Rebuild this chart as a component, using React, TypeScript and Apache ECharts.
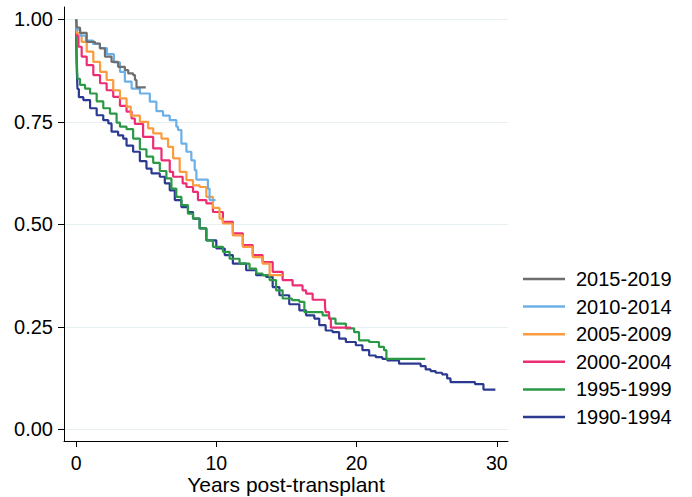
import React, { useEffect, useRef } from "react";
import * as echarts from "echarts";

const seriesNames = ["1990-1994", "1995-1999", "2000-2004", "2005-2009", "2010-2014", "2015-2019"];
const seriesColors = ["#2b3990", "#2a9845", "#ec2d74", "#f99b3e", "#6cb0e8", "#6e6e6e"];

const t1990 = [0, 0.02, 0.05, 0.1, 0.2, 0.52, 1.0, 1.47, 1.94, 2.3, 2.53, 3.0, 3.36, 3.6, 4.07, 4.55, 5.02, 5.38, 5.97, 6.33, 6.68, 7.04, 7.51, 7.98, 8.34, 8.81, 9.29, 10.0, 10.6, 11.18, 12.13, 12.84, 13.55, 14.02, 14.5, 15.2, 15.92, 16.4, 16.99, 17.34, 17.8, 18.29, 18.76, 19.24, 19.95, 20.42, 20.9, 21.37, 21.84, 22.2, 23.03, 24.4, 24.57, 24.93, 25.28, 25.64, 26.1, 26.46, 26.7, 28.45, 29.05, 29.9];
const s1990 = [1.0, 0.93, 0.88, 0.83, 0.81, 0.803, 0.783, 0.766, 0.754, 0.746, 0.726, 0.717, 0.709, 0.692, 0.677, 0.654, 0.636, 0.624, 0.616, 0.6, 0.583, 0.559, 0.542, 0.53, 0.514, 0.49, 0.461, 0.441, 0.425, 0.404, 0.388, 0.376, 0.372, 0.347, 0.327, 0.305, 0.29, 0.278, 0.27, 0.254, 0.241, 0.237, 0.221, 0.213, 0.205, 0.193, 0.18, 0.176, 0.172, 0.168, 0.16, 0.16, 0.154, 0.146, 0.142, 0.138, 0.134, 0.124, 0.115, 0.11, 0.097, 0.097];

const t1995 = [0, 0.02, 0.05, 0.1, 0.28, 0.64, 1.0, 1.47, 1.94, 2.42, 2.89, 3.13, 3.6, 4.07, 4.55, 5.02, 5.5, 5.97, 6.44, 6.8, 7.15, 7.51, 7.98, 8.34, 8.81, 9.29, 9.76, 10.47, 10.95, 11.66, 12.37, 12.84, 13.3, 13.8, 14.26, 14.73, 15.4, 15.92, 16.28, 17.34, 17.58, 18.05, 18.5, 19.24, 19.83, 20.18, 20.9, 21.6, 21.96, 22.13, 24.9];
const s1995 = [1.0, 0.95, 0.9, 0.855, 0.84, 0.831, 0.819, 0.8, 0.783, 0.77, 0.748, 0.738, 0.732, 0.709, 0.683, 0.665, 0.65, 0.63, 0.612, 0.587, 0.567, 0.547, 0.526, 0.514, 0.49, 0.461, 0.445, 0.433, 0.416, 0.404, 0.392, 0.38, 0.376, 0.364, 0.339, 0.319, 0.315, 0.311, 0.286, 0.286, 0.278, 0.27, 0.258, 0.246, 0.237, 0.217, 0.213, 0.201, 0.193, 0.172, 0.172];

const t2000 = [0, 0.05, 0.17, 0.4, 0.76, 1.23, 1.71, 2.18, 2.65, 3.13, 3.6, 3.96, 4.19, 4.78, 5.5, 6.09, 6.68, 6.92, 7.6, 7.87, 8.34, 8.69, 9.29, 9.76, 10.47, 11.18, 11.89, 12.6, 13.3, 14.02, 14.73, 15.44, 16.15, 16.4, 16.87, 17.75, 17.8, 18.04, 18.17, 19.6];
const s2000 = [1.0, 0.96, 0.933, 0.909, 0.888, 0.864, 0.844, 0.827, 0.811, 0.789, 0.775, 0.758, 0.745, 0.713, 0.685, 0.656, 0.628, 0.616, 0.6, 0.591, 0.579, 0.559, 0.551, 0.53, 0.506, 0.478, 0.449, 0.425, 0.408, 0.384, 0.364, 0.351, 0.339, 0.331, 0.316, 0.3, 0.286, 0.27, 0.248, 0.248];

const t2005 = [0, 0.05, 0.4, 0.76, 1.23, 1.71, 2.18, 2.65, 3.13, 3.6, 3.9, 4.55, 5.14, 5.5, 6.09, 6.56, 6.92, 7.39, 7.87, 8.34, 8.81, 9.29, 9.76, 10.23, 10.47, 11.18, 11.89, 12.6, 13.3, 13.8, 14.73];
const s2005 = [1.0, 0.966, 0.945, 0.921, 0.896, 0.872, 0.852, 0.827, 0.807, 0.787, 0.765, 0.75, 0.734, 0.722, 0.709, 0.689, 0.661, 0.628, 0.608, 0.595, 0.591, 0.567, 0.54, 0.514, 0.502, 0.473, 0.445, 0.42, 0.404, 0.376, 0.376];

const t2010 = [0, 0.05, 0.3, 0.7, 1.2, 1.7, 2.2, 2.7, 3.13, 3.48, 3.96, 4.55, 5.26, 5.73, 6.2, 6.68, 7.15, 7.27, 7.51, 7.87, 8.22, 8.46, 8.58, 9.4, 9.52, 9.95];
const s2010 = [1.0, 0.975, 0.96, 0.948, 0.94, 0.93, 0.915, 0.895, 0.872, 0.848, 0.831, 0.819, 0.799, 0.776, 0.765, 0.754, 0.738, 0.73, 0.697, 0.677, 0.656, 0.632, 0.609, 0.587, 0.559, 0.559];

const t2015 = [0, 0.05, 0.28, 0.76, 1.35, 1.7, 2.06, 2.53, 3.0, 3.48, 3.72, 4.07, 4.2, 4.31, 4.97];
const s2015 = [1.0, 0.98, 0.967, 0.945, 0.941, 0.929, 0.909, 0.896, 0.884, 0.876, 0.868, 0.864, 0.852, 0.834, 0.834];

const xTicks = [0, 10, 20, 30];
const yTicks = [0, 0.25, 0.5, 0.75, 1];
const xTitle = "Years post-transplant";

const times = [t1990, t1995, t2000, t2005, t2010, t2015];
const survival = [s1990, s1995, s2000, s2005, s2010, s2015];

const FONT = "'Liberation Sans', Arial, Helvetica, sans-serif";

export default function App() {
  const ref = useRef<HTMLDivElement>(null);
  useEffect(() => {
    if (!ref.current) return;
    const chart = echarts.init(ref.current, undefined, { renderer: "svg" });
    const series = seriesNames.map((name, i) => ({
      name,
      type: "line",
      step: "end",
      symbol: "none",
      data: times[i].map((t, j) => [t, survival[i][j]]),
      lineStyle: { color: seriesColors[i], width: 2.2 },
      itemStyle: { color: seriesColors[i] },
      z: 2 + i,
    }));
    chart.setOption({
      animation: false,
      backgroundColor: "#ffffff",
      textStyle: { fontFamily: FONT },
      grid: { left: 64, right: 184, top: 7, bottom: 56, containLabel: false, outerBoundsMode: "none" },
      xAxis: {
        type: "value",
        min: -0.86,
        max: 30.8,
        name: xTitle,
        nameLocation: "middle",
        nameGap: 33,
        nameMoveOverlap: false,
        nameTextStyle: { fontSize: 21, color: "#000", fontFamily: FONT, verticalAlign: "top", lineHeight: 21 },
        axisLine: { show: true, onZero: false, lineStyle: { color: "#000", width: 1 } },
        axisTick: { show: true, length: 6, lineStyle: { color: "#000" }, customValues: xTicks },
        axisLabel: { fontSize: 19.5, lineHeight: 19.5, color: "#000", margin: 12.5, fontFamily: FONT, customValues: xTicks },
        splitLine: { show: false },
      },
      yAxis: {
        type: "value",
        min: -0.0285,
        max: 1.03,
        axisLine: { show: true, onZero: false, lineStyle: { color: "#000", width: 1 } },
        axisTick: { show: true, length: 6, lineStyle: { color: "#000" }, customValues: yTicks },
        axisLabel: {
          fontSize: 20,
          color: "#000",
          margin: 11,
          fontFamily: FONT,
          customValues: yTicks,
          formatter: (v: number) => v.toFixed(2),
        },
        splitLine: { show: true, lineStyle: { color: "#e6eff1", width: 1 } },
      },
      legend: {
        orient: "vertical",
        left: 523,
        top: 269,
        padding: 0,
        icon: "rect",
        itemWidth: 42,
        itemHeight: 2.5,
        itemGap: 7.6,
        data: [...seriesNames].reverse(),
        textStyle: { fontSize: 20, color: "#000", fontFamily: FONT, lineHeight: 20, padding: [0, 0, 0, 6] },
      },
      series,
    });
    return () => chart.dispose();
  }, []);
  return <div ref={ref} style={{ position: "fixed", left: 0, top: 0, width: 692, height: 497 }} />;
}
